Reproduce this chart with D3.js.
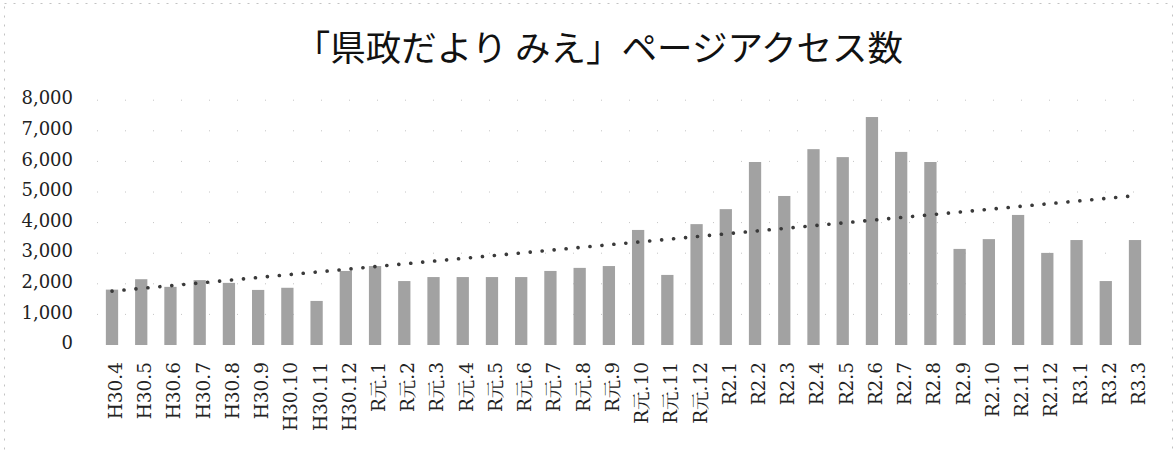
<!DOCTYPE html>
<html>
<head>
<meta charset="utf-8">
<script src="https://cdn.jsdelivr.net/npm/d3@7"></script>
<style>
  body { margin: 0; background: #fff; }
  svg { display: block; }
</style>
</head>
<body>
<svg id="chart" width="1176" height="450"></svg>
<script>
const titleText = "「県政だより みえ」ページアクセス数";

const categories = [
  "H30.4","H30.5","H30.6","H30.7","H30.8","H30.9","H30.10","H30.11","H30.12",
  "R元.1","R元.2","R元.3","R元.4","R元.5","R元.6","R元.7","R元.8","R元.9","R元.10","R元.11","R元.12",
  "R2.1","R2.2","R2.3","R2.4","R2.5","R2.6","R2.7","R2.8","R2.9","R2.10","R2.11","R2.12",
  "R3.1","R3.2","R3.3"
];

const accessCounts = [
  1810, 2150, 1900, 2120, 2030, 1800, 1870, 1440, 2420,
  2580, 2090, 2220, 2220, 2220, 2220, 2420, 2520, 2580, 3760, 2290, 3950,
  4440, 5980, 4870, 6400, 6140, 7450, 6310, 5980, 3140, 3460, 4250, 3010,
  3430, 2090, 3430
];

// linear trendline, read at first and last category
const trendCategories = ["H30.4", "R3.3"];
const trendValues = [1760, 4880];

const yTicks = [0, 1000, 2000, 3000, 4000, 5000, 6000, 7000, 8000];

const svg = d3.select("#chart");
const W = 1176, H = 450;

// faint scanned border
svg.append("rect")
  .attr("x", 4.5).attr("y", 3.5).attr("width", W - 8).attr("height", H)
  .attr("fill", "none").attr("stroke", "#999").attr("stroke-width", 1)
  .attr("stroke-dasharray", "2,7").attr("opacity", 0.6);

const x = d3.scalePoint().domain(categories).range([112, 1135]).padding(0);
const y = d3.scaleLinear().domain([0, 8000]).range([345, 100.2]);
const barW = x.step() * 0.42;

// gridlines (very faint, dotted like the scan)
svg.append("g")
  .selectAll("line").data(yTicks.filter(d => d > 0)).join("line")
  .attr("x1", 97).attr("x2", 1150)
  .attr("y1", d => y(d)).attr("y2", d => y(d))
  .attr("stroke", "#c4c4c4").attr("stroke-width", 1)
  .attr("stroke-dasharray", "1,27");

// title
svg.append("text")
  .attr("x", 599).attr("y", 45)
  .attr("text-anchor", "middle").attr("dominant-baseline", "central")
  .attr("font-family", "'Noto Sans CJK JP', 'Noto Sans', sans-serif")
  .attr("font-size", 35.5).attr("fill", "#111")
  .text(titleText);

// y axis labels
const yAxis = d3.axisLeft(y).tickValues(yTicks).tickSize(0).tickPadding(0)
  .tickFormat(d3.format(","));
const gy = svg.append("g").attr("transform", "translate(73,-2)").call(yAxis);
gy.select(".domain").remove();
gy.selectAll("text")
  .attr("font-family", "'DejaVu Serif', 'Liberation Serif', serif")
  .attr("font-size", 18).attr("fill", "#222");

// bars
svg.append("g")
  .selectAll("rect").data(categories).join("rect")
  .attr("x", (d) => x(d) - barW / 2)
  .attr("width", barW)
  .attr("y", (d, i) => y(accessCounts[i]))
  .attr("height", (d, i) => y(0) - y(accessCounts[i]))
  .attr("fill", "#a2a2a2");

// trend line (dotted)
const line = d3.line().x(d => x(d[0])).y(d => y(d[1]));
svg.append("path")
  .datum(trendCategories.map((c, i) => [c, trendValues[i]]))
  .attr("d", line)
  .attr("fill", "none").attr("stroke", "#3a3a3a").attr("stroke-width", 3.6)
  .attr("stroke-linecap", "round").attr("stroke-dasharray", "0.1,11.9");

// x axis labels (rotated)
const xAxis = d3.axisBottom(x).tickSize(0).tickPadding(0);
const gx = svg.append("g").attr("transform", "translate(3,362)").call(xAxis);
gx.select(".domain").remove();
gx.selectAll("text")
  .attr("font-family", "'DejaVu Serif', 'Noto Serif CJK JP', 'Noto Sans CJK JP', serif")
  .attr("font-size", 18.5).attr("fill", "#222")
  .attr("transform", "rotate(-90)")
  .attr("text-anchor", "end")
  .attr("x", 0).attr("y", 0)
  .attr("dy", "0.35em");
</script>
</body>
</html>
